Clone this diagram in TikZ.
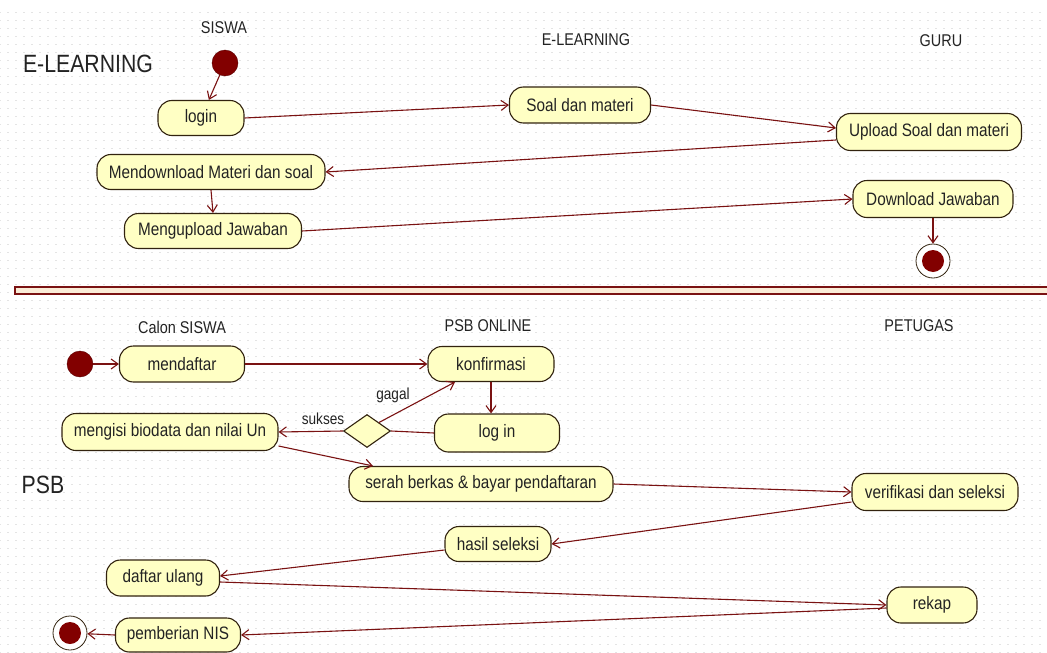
\documentclass[tikz,border=0pt]{standalone}
\usepackage{fontspec}
\setmainfont{Liberation Sans}[FakeStretch=0.85]
\usetikzlibrary{arrows.meta,shapes.geometric,patterns}
\definecolor{nfill}{RGB}{255,255,196}
\definecolor{nline}{RGB}{50,35,15}
\definecolor{acol}{RGB}{122,18,18}
\definecolor{dotc}{RGB}{130,0,0}
\definecolor{sepfill}{RGB}{250,236,215}
\definecolor{txt}{RGB}{35,35,35}
\definecolor{gridc}{RGB}{228,228,228}
\pgfdeclarepatternformonly{gridDots}{\pgfpointorigin}{\pgfpoint{8pt}{8pt}}{\pgfpoint{8pt}{8pt}}{%
  \pgfpathrectangle{\pgfpoint{0pt}{0pt}}{\pgfpoint{2.2pt}{0.9pt}}\pgfusepath{fill}}
\begin{document}
\begin{tikzpicture}[x=1pt,y=-1pt,
  act/.style={draw=nline, fill=nfill, rounded corners=14pt, minimum height=35pt,
    inner sep=2pt, line width=1.1pt, text=txt, font=\fontsize{18}{20}\selectfont},
  startdot/.style={circle, fill=dotc, draw=dotc!70!black, minimum size=26pt, inner sep=0pt},
  endo/.style={circle, draw=nline, line width=0.8pt, minimum size=34pt, inner sep=0pt},
  endi/.style={circle, fill=dotc, minimum size=22pt, inner sep=0pt},
  dec/.style={diamond, draw=nline, fill=nfill, line width=1.1pt, minimum width=47pt,
    minimum height=33pt, inner sep=0pt},
  flow/.style={draw=acol, line width=1.1pt, -{Straight Barb[length=7pt,width=10pt]}},
  plain/.style={draw=acol, line width=1.1pt},
  lane/.style={text=txt, font=\fontsize{17}{19}\selectfont},
  big/.style={text=txt, font=\fontsize{25}{28}\selectfont},
  guard/.style={text=txt, font=\fontsize{16}{18}\selectfont}]
\useasboundingbox[fill=white] (0,0) rectangle (1047,653);
\fill[pattern=gridDots, pattern color=gridc] (0,9) rectangle (1047,653);

% titles
\node[big] (tel) at (88,64) {E-LEARNING};
\node[big] (tpsb) at (43,485) {PSB};
\node[lane] (l1) at (224,28) {SISWA};
\node[lane] (l2) at (586,40) {E-LEARNING};
\node[lane] (l3) at (941,41) {GURU};
\node[lane] (l4) at (182,327) {Calon SISWA};
\node[lane] (l5) at (488,326) {PSB ONLINE};
\node[lane] (l6) at (919,326) {PETUGAS};

% separator
\fill[sepfill] (15,287) rectangle (1047,294);
\draw[acol, line width=1.5pt] (1047,287) -- (15,287) -- (15,294) -- (1047,294);

% top diagram
\node[startdot] (s1) at (225,63) {};
\node[act, minimum width=86pt] (login) at (201,118) {login};
\node[act, minimum width=141pt, minimum height=36pt] (soal) at (580,105) {Soal dan materi};
\node[act, minimum width=185pt, minimum height=37pt] (upload) at (929,132) {Upload Soal dan materi};
\node[act, minimum width=228pt] (mendl) at (211,172) {Mendownload Materi dan soal};
\node[act, minimum width=177pt] (mengup) at (213,231) {Mengupload Jawaban};
\node[act, minimum width=160pt, minimum height=37pt] (dljaw) at (933,199) {Download Jawaban};
\node[endo, fill=white] (e1) at (933,261) {};
\node[endi] (e1i) at (933,261) {};

\draw[flow] (s1) -- (login);
\draw[flow] (login.east) -- (soal.west);
\draw[flow] (soal.east) -- ([yshift=4pt]upload.west);
\draw[flow] ([yshift=-8pt]upload.west) -- (mendl.east);
\draw[flow] (mendl.south) -- (mengup.north);
\draw[flow] (mengup.east) -- (dljaw.west);
\draw[flow] (dljaw.south) -- (e1);

% bottom diagram
\node[startdot] (s2) at (80,364) {};
\node[act, minimum width=125pt, minimum height=36pt] (daftar) at (182,364) {mendaftar};
\node[act, minimum width=126pt] (konf) at (491,364) {konfirmasi};
\node[act, minimum width=125pt, minimum height=38pt] (logi) at (497,433) {log in};
\node[dec] (dc) at (367,431) {};
\node[act, minimum width=216pt, minimum height=37pt] (isi) at (170,432) {mengisi biodata dan nilai Un};
\node[act, minimum width=264pt] (serah) at (481,484) {serah berkas \& bayar pendaftaran};
\node[act, minimum width=166pt, minimum height=37pt] (verif) at (935,492) {verifikasi dan seleksi};
\node[act, minimum width=106pt] (hasil) at (498,544) {hasil seleksi};
\node[act, minimum width=113pt, minimum height=36pt] (ulang) at (163,578) {daftar ulang};
\node[act, minimum width=90pt, minimum height=36pt] (rekap) at (932,605) {rekap};
\node[act, minimum width=125pt, minimum height=34pt] (nis) at (178,635) {pemberian NIS};
\node[endo, fill=white] (e2) at (70,633) {};
\node[endi] (e2i) at (70,633) {};

\node[guard] (gg) at (393,395) {gagal};
\node[guard] (gs) at (323,419) {sukses};

\draw[flow] (s2) -- (daftar);
\draw[flow] (daftar.east) -- (konf.west);
\draw[flow] (konf.south) -- (konf.south |- logi.north);
\draw[plain] (logi.west) -- (dc.east);
\draw[flow] (dc.north east) -- ([xshift=-36pt]konf.south);
\draw[flow] (dc.west) -- (isi.east);
\draw[flow] ([yshift=-14pt]isi.east) -- ([xshift=-108pt]serah.north);
\draw[flow] (serah.east) -- (verif.west);
\draw[flow] ([yshift=-10pt]verif.west) -- (hasil.east);
\draw[flow] ([yshift=-6pt]hasil.west) -- ([yshift=2pt]ulang.east);
\draw[flow] ([yshift=-4pt]ulang.east) -- (rekap.west);
\draw[flow] ([yshift=-3pt]rekap.west) -- (nis.east);
\draw[flow] (nis.west) -- (e2);
\end{tikzpicture}
\end{document}
